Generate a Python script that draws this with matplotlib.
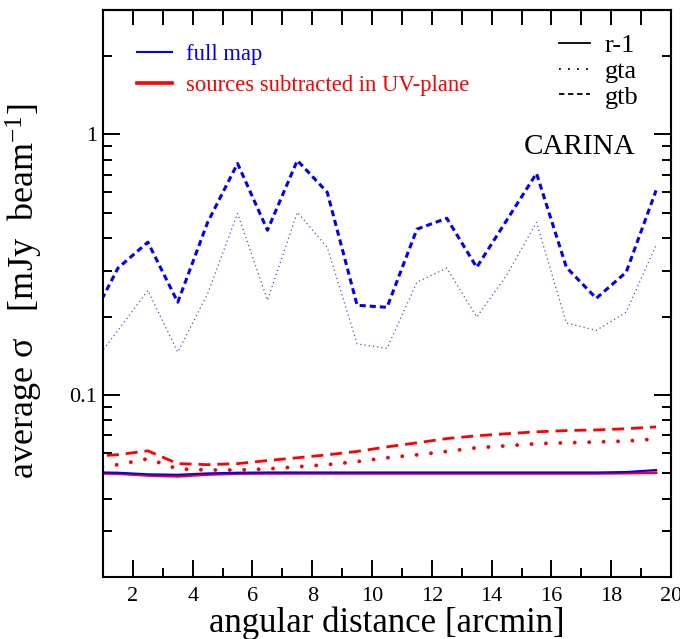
import matplotlib
matplotlib.use("Agg")
import matplotlib.pyplot as plt
from matplotlib.lines import Line2D
from matplotlib.ticker import MultipleLocator, LogLocator, NullFormatter, FixedLocator

plt.rcParams['font.family'] = ['Liberation Serif', 'DejaVu Serif']
plt.rcParams['mathtext.fontset'] = 'custom'
plt.rcParams['mathtext.rm'] = 'Liberation Serif'
plt.rcParams['mathtext.it'] = 'Liberation Serif:italic'

# angular distance bins [arcmin]
dist = [0.5, 1.5, 2.5, 3.5, 4.5, 5.5, 6.5, 7.5, 8.5, 9.5,
        10.5, 11.5, 12.5, 13.5, 14.5, 15.5, 16.5, 17.5, 18.5, 19.5]

# full map, average sigma [mJy/beam]
full_r1 = [0.0505, 0.0503, 0.0496, 0.0494, 0.0500, 0.0503, 0.0504, 0.0504, 0.0504, 0.0504,
           0.0504, 0.0504, 0.0504, 0.0504, 0.0504, 0.0504, 0.0504, 0.0504, 0.0506, 0.0515]
full_gta = [0.125, 0.177, 0.252, 0.146, 0.245, 0.498, 0.231, 0.503, 0.369, 0.157,
            0.151, 0.271, 0.307, 0.199, 0.288, 0.460, 0.189, 0.177, 0.208, 0.376]
full_gtb = [0.184, 0.307, 0.386, 0.227, 0.460, 0.774, 0.429, 0.795, 0.600, 0.221,
            0.217, 0.433, 0.477, 0.309, 0.468, 0.709, 0.309, 0.235, 0.296, 0.610]

# sources subtracted in the uv-plane
sub_r1 = [0.0501, 0.0499, 0.0491, 0.0487, 0.0495, 0.0499, 0.0500, 0.0500, 0.0500, 0.0500,
          0.0500, 0.0500, 0.0500, 0.0500, 0.0500, 0.0500, 0.0500, 0.0500, 0.0501, 0.0503]
sub_gta = [0.0520, 0.0540, 0.0569, 0.0520, 0.0515, 0.0515, 0.0520, 0.0530, 0.0540, 0.0555,
           0.0574, 0.0589, 0.0607, 0.0627, 0.0638, 0.0650, 0.0655, 0.0660, 0.0665, 0.0678]
sub_gtb = [0.0580, 0.0590, 0.0610, 0.0545, 0.0540, 0.0545, 0.0560, 0.0574, 0.0589, 0.0607,
           0.0632, 0.0655, 0.0680, 0.0697, 0.0710, 0.0722, 0.0730, 0.0734, 0.0742, 0.0754]

fig = plt.figure(figsize=(6.8, 6.39), dpi=100)
ax = fig.add_axes([0.1515, 0.097, 0.8353, 0.887])

# red (subtracted) curves go under the blue ones
ax.plot(dist, sub_r1, color='red', lw=2.0)
ax.plot(dist, sub_gtb, color='red', lw=2.0, dashes=(4.3, 2.5))
ax.plot(dist, sub_gta, color='red', lw=2.8, dashes=(0.01, 3.7), dash_capstyle='round')

ax.plot(dist, full_r1, color='blue', lw=1.5)
ax.plot(dist, full_gta, color='#4a4aff', lw=0.9, dashes=(1.0, 2.4))
ax.plot(dist, full_gtb, color='blue', lw=2.2, dashes=(2.0, 1.3))

ax.set_yscale('log')
ax.set_xlim(1, 20)
ax.set_ylim(0.02, 3)

ax.xaxis.set_major_locator(FixedLocator([2, 4, 6, 8, 10, 12, 14, 16, 18, 20]))
ax.xaxis.set_minor_locator(MultipleLocator(1))
ax.yaxis.set_major_locator(FixedLocator([0.1, 1]))
ax.yaxis.set_major_formatter(plt.FuncFormatter(lambda v, p: '%g' % v))
ax.yaxis.set_minor_locator(LogLocator(base=10, subs=range(2, 10)))
ax.yaxis.set_minor_formatter(NullFormatter())

ax.tick_params(which='both', direction='in', width=1.4, labelsize=16, top=False, right=True)
ax.tick_params(which='major', length=12)
ax.tick_params(which='minor', length=6.5)
ax.tick_params(axis='x', pad=7)
ax.tick_params(axis='y', pad=4)

top = ax.secondary_xaxis('top')
top.xaxis.set_major_locator(MultipleLocator(1))
top.tick_params(direction='in', length=11, width=1.4, labeltop=False)
top.spines['top'].set_linewidth(1.5)

for s in ax.spines.values():
    s.set_linewidth(1.5)

ax.set_xlabel('angular distance [arcmin]', fontsize=25, labelpad=0.5)
ax.set_ylabel('average σ   [mJy  beam$^{-1}$]', fontsize=26)
ax.yaxis.set_label_coords(-0.102, 0.505)

# data-set legend
leg1 = ax.legend(
    [Line2D([], [], color='blue', lw=1.5), Line2D([], [], color='red', lw=2.6)],
    ['full map', 'sources subtracted in UV-plane'],
    loc='upper left', bbox_to_anchor=(0.024, 0.977), frameon=False,
    fontsize=16.3, handlelength=1.55, handletextpad=0.6, labelspacing=0.45,
    labelcolor=['blue', 'red'])
ax.add_artist(leg1)

# line-style legend
ax.legend(
    [Line2D([], [], color='black', lw=1.3),
     Line2D([], [], color='black', lw=1.3, dashes=(1, 4)),
     Line2D([], [], color='black', lw=1.3, dashes=(3, 2))],
    ['r-1', 'gta', 'gtb'],
    loc='upper right', bbox_to_anchor=(0.985, 1.0), frameon=False,
    fontsize=19, handlelength=1.2, handletextpad=0.55, labelspacing=0.08)

ax.text(0.937, 0.758, 'CARINA', transform=ax.transAxes, fontsize=21,
        ha='right', va='center')

fig.savefig('out.png', dpi=100)
